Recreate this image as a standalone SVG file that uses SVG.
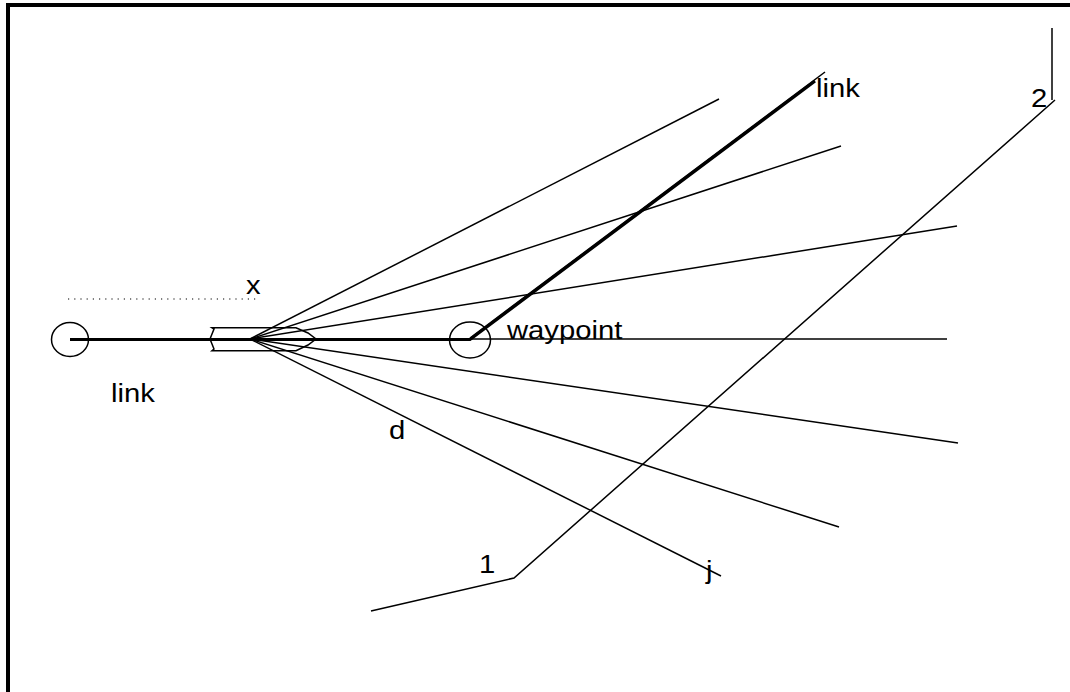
<svg xmlns="http://www.w3.org/2000/svg" width="1070" height="692" viewBox="0 0 1070 692">
<style>
.l{fill:none;stroke:#000;stroke-width:1.5}
.h{fill:none;stroke:#000;stroke-width:3.2}
.c{fill:none;stroke:#000;stroke-width:1.5}
text{font-family:"Liberation Sans",Arial,sans-serif;font-size:25px;fill:#000}
</style>
<rect width="1070" height="692" fill="#fff"/>
<path d="M8 692V5H1070" fill="none" stroke="#000" stroke-width="4"/>
<g id="connectors">
<path class="l" d="M250 339L719 99"/>
<path class="l" d="M250 339L841 146"/>
<path class="l" d="M250 339L957 226"/>
<path class="l" d="M250 339H947"/>
<path class="l" d="M250 339L958 443"/>
<path class="l" d="M250 339L839 527"/>
<path class="l" d="M250 339L721 576"/>
<path class="l" d="M371 611L514 578L1055 100"/>
<path class="l" d="M1052 28V100"/>
<path class="h" d="M70 339.500H470L815 81"/>
<path class="l" d="M470 338L825 72"/>
<path d="M68 299H258" fill="none" stroke="#000" stroke-width="1.2" stroke-dasharray="1.2 5"/>
</g>
<g id="node-start"><ellipse class="c" cx="70" cy="339.500" rx="18.500" ry="17"/></g>
<g id="node-waypoint"><ellipse class="c" cx="470" cy="340" rx="20.500" ry="18"/><text transform="translate(507 338.500) scale(1.17 1)">waypoint</text></g>
<g id="node-vehicle"><path class="c" d="M212 327.700H296L308 333L316 339L308 345L296 350.700H212L214 349L210 339L214 329Z"/></g>
<g id="labels">
<text transform="translate(246 293.500) scale(1.17 1)">x</text>
<text transform="translate(111 402) scale(1.17 1)">link</text>
<text transform="translate(816 97) scale(1.17 1)">link</text>
<text transform="translate(389 439) scale(1.17 1)">d</text>
<text transform="translate(1031 107) scale(1.17 1)">2</text>
<text transform="translate(479 573) scale(1.17 1)">1</text>
<text transform="translate(706 579) scale(1.17 1)">j</text>
</g>
</svg>
